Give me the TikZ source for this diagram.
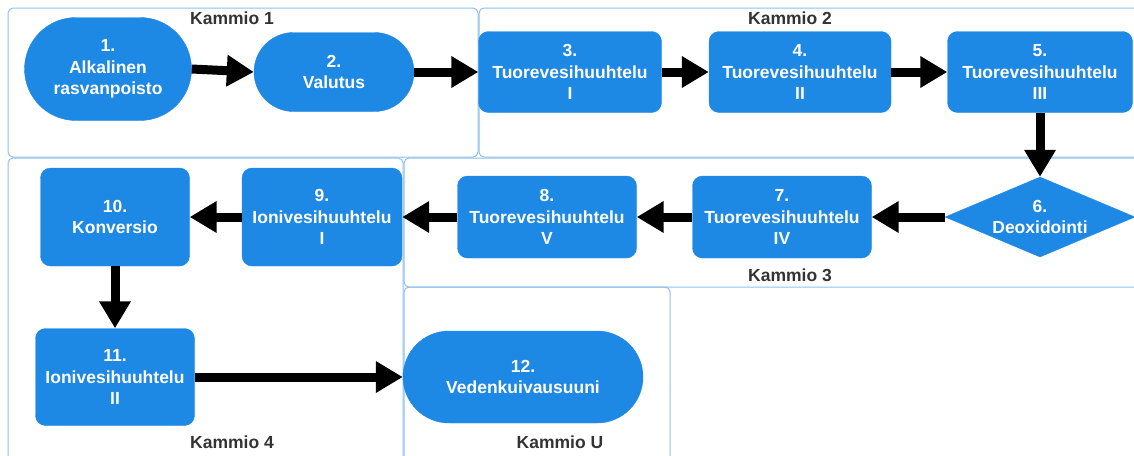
\documentclass[tikz,border=0pt]{standalone}
\usepackage{fontspec}
\setmainfont{Liberation Sans}
\usetikzlibrary{arrows.meta,shapes.misc,shapes.geometric}
\definecolor{nodeblue}{HTML}{1E88E5}
\definecolor{frameblue}{HTML}{8DC0EE}
\definecolor{labelgray}{HTML}{333333}
\begin{document}
\begin{tikzpicture}[x=1pt,y=-1pt,
  frame/.style={draw=frameblue,line width=1pt,rounded corners=5pt},
  flabel/.style={text=labelgray,font=\fontsize{17.5}{20}\selectfont\bfseries},
  base/.style={fill=nodeblue,draw=nodeblue,text=white,align=center,inner sep=0pt,
    font=\fontsize{17.5}{21.5}\selectfont\bfseries},
  stadium/.style={base,rounded rectangle},
  procbox/.style={base,rounded corners=10pt,rectangle},
  decision/.style={base,diamond,shape aspect=2.4},
  flow/.style={line width=9pt,-{Triangle[length=27pt,width=30pt]}}
]
\useasboundingbox (0,0) rectangle (1134,455);
% containers
\draw[frame] (8,8) rectangle (478,157);
\draw[frame] (479,8) rectangle (1145,157);
\draw[frame] (404,158) rectangle (1145,287);
\draw[frame] (8,158) rectangle (403,465);
\draw[frame] (404,287) rectangle (670,465);
\node[flabel] (k1) at (232,18) {Kammio 1};
\node[flabel] (k2) at (790,18) {Kammio 2};
\node[flabel] (k3) at (790,275) {Kammio 3};
\node[flabel] (k4) at (232,442) {Kammio 4};
\node[flabel] (ku) at (560,442) {Kammio U};
% nodes
\node[stadium,minimum width=167,minimum height=103] (n1) at (108,69) {1.\\Alkalinen\\rasvanpoisto};
\node[stadium,minimum width=160,minimum height=79] (n2) at (334,72) {2.\\Valutus};
\node[procbox,minimum width=183,minimum height=81] (n3) at (570,72) {3.\\Tuorevesihuuhtelu\\I};
\node[procbox,minimum width=182,minimum height=81] (n4) at (800,72) {4.\\Tuorevesihuuhtelu\\II};
\node[procbox,minimum width=185,minimum height=81] (n5) at (1040,72) {5.\\Tuorevesihuuhtelu\\III};
\node[decision,minimum width=190,minimum height=80] (n6) at (1040,217) {6.\\Deoxidointi};
\node[procbox,minimum width=179,minimum height=82] (n7) at (782,217) {7.\\Tuorevesihuuhtelu\\IV};
\node[procbox,minimum width=179,minimum height=82] (n8) at (547,217) {8.\\Tuorevesihuuhtelu\\V};
\node[procbox,minimum width=160,minimum height=98] (n9) at (322,217) {9.\\Ionivesihuuhtelu\\I};
\node[procbox,minimum width=149,minimum height=98] (n10) at (115,217) {10.\\Konversio};
\node[procbox,minimum width=159,minimum height=97] (n11) at (115,377) {11.\\Ionivesihuuhtelu\\II};
\node[stadium,minimum width=240,minimum height=92] (n12) at (523,377) {12.\\Vedenkuivausuuni};
% connectors
\draw[flow] (n1.east) -- (n2.west);
\draw[flow] (n2.east) -- (n3.west);
\draw[flow] (n3.east) -- (n4.west);
\draw[flow] (n4.east) -- (n5.west);
\draw[flow] (n5.south) -- (n6.north);
\draw[flow] (n6.west) -- (n7.east);
\draw[flow] (n7.west) -- (n8.east);
\draw[flow] (n8.west) -- (n9.east);
\draw[flow] (n9.west) -- (n10.east);
\draw[flow] (n10.south) -- (n11.north);
\draw[flow] (n11.east) -- (n12.west);
\end{tikzpicture}
\end{document}
